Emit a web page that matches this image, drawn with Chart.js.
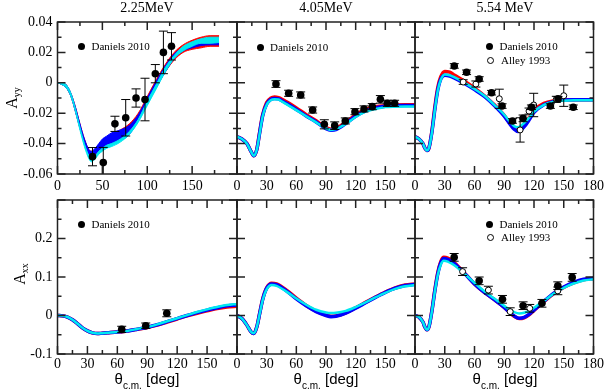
<!DOCTYPE html>
<html>
<head>
<meta charset="utf-8">
<script src="https://cdn.jsdelivr.net/npm/chart.js@4.4.0/dist/chart.umd.min.js"></script>
<style>
  html, body { margin: 0; padding: 0; background: #fff; }
  #wrap { position: relative; width: 605px; height: 391px; overflow: hidden; }
  #wrap canvas { position: absolute; left: 0; top: 0; }
  .t { position: absolute; white-space: nowrap; color: #000; line-height: 1; }
  .ttl { font: 14px "Liberation Serif", "Times New Roman", serif; transform: translate(-50%, -50%); }
  .ylab { font: 16px "Liberation Serif", "Times New Roman", serif; transform: translate(-50%, -50%) rotate(-90deg); }
  .ylab sub { font-size: 10px; vertical-align: -3px; }
  .xlab { font: 15px "Liberation Sans", Arial, sans-serif; transform: translate(-50%, -50%); }
  .xlab sub { font-size: 10px; vertical-align: -5px; }
  .leg { font: 11px "Liberation Serif", "Times New Roman", serif; display: flex; align-items: center; height: 14px; }
  .dot { width: 7px; height: 7px; border-radius: 50%; background: #000; margin-right: 6.5px; }
  .odot { width: 5px; height: 5px; border-radius: 50%; border: 1px solid #000; background: #fff; margin: 0 7.5px 0 0.5px; }
</style>
</head>
<body>
<div id="wrap">
  <canvas id="cTL" width="605" height="391"></canvas>
  <canvas id="cTM" width="605" height="391"></canvas>
  <canvas id="cTR" width="605" height="391"></canvas>
  <canvas id="cBL" width="605" height="391"></canvas>
  <canvas id="cBM" width="605" height="391"></canvas>
  <canvas id="cBR" width="605" height="391"></canvas>

  <div class="t ttl" style="left:147px;top:8px">2.25MeV</div>
  <div class="t ttl" style="left:326px;top:8px">4.05MeV</div>
  <div class="t ttl" style="left:505px;top:8px">5.54 MeV</div>

  <div class="t ylab" style="left:12px;top:98px">A<sub>yy</sub></div>
  <div class="t ylab" style="left:20px;top:274px">A<sub>xx</sub></div>

  <div class="t xlab" style="left:147px;top:380px">θ<sub>c.m.</sub> [deg]</div>
  <div class="t xlab" style="left:326px;top:380px">θ<sub>c.m.</sub> [deg]</div>
  <div class="t xlab" style="left:505px;top:380px">θ<sub>c.m.</sub> [deg]</div>

  <div class="t leg" style="left:78px;top:39px"><span class="dot"></span>Daniels 2010</div>
  <div class="t leg" style="left:256.5px;top:40px"><span class="dot"></span>Daniels 2010</div>
  <div class="t leg" style="left:486px;top:39px"><span class="dot"></span>Daniels 2010</div>
  <div class="t leg" style="left:486px;top:53px"><span class="odot"></span>Alley 1993</div>
  <div class="t leg" style="left:78px;top:217px"><span class="dot"></span>Daniels 2010</div>
  <div class="t leg" style="left:486px;top:217px"><span class="dot"></span>Daniels 2010</div>
  <div class="t leg" style="left:486px;top:230px"><span class="odot"></span>Alley 1993</div>
</div>

<script>
// ---------- theory bands, Ayy at 2.25 MeV (lower / upper edges) ----------
const angAyy225  = [0, 5, 10, 15, 20, 25, 30, 35, 38, 42, 46, 50, 55, 60, 70, 80, 90, 100, 110, 120, 130, 140, 150, 160, 170, 180];
const redLo225   = [0, -0.0012, -0.0035, -0.009, -0.019, -0.030, -0.040, -0.047, -0.049, -0.048, -0.045, -0.043, -0.041, -0.040, -0.037, -0.033, -0.025, -0.014, -0.003, 0.007, 0.015, 0.020, 0.022, 0.023, 0.024, 0.024];
const redHi225   = [0, 0.0002, -0.0015, -0.007, -0.016, -0.027, -0.037, -0.044, -0.045, -0.044, -0.041, -0.038, -0.036, -0.034, -0.031, -0.027, -0.020, -0.009, 0.002, 0.012, 0.020, 0.025, 0.028, 0.030, 0.031, 0.031];
const blueLo225  = [0, -0.0012, -0.0035, -0.009, -0.019, -0.030, -0.040, -0.047, -0.048, -0.047, -0.045, -0.043, -0.041, -0.040, -0.038, -0.034, -0.025, -0.014, -0.003, 0.007, 0.016, 0.021, 0.023, 0.0245, 0.025, 0.025];
const blueHi225  = [0, 0.0002, -0.0015, -0.007, -0.016, -0.027, -0.037, -0.044, -0.045, -0.043, -0.040, -0.037, -0.035, -0.033, -0.031, -0.028, -0.021, -0.010, 0.001, 0.011, 0.019, 0.023, 0.025, 0.026, 0.027, 0.027];
const cyanLo225  = [0, -0.0012, -0.0035, -0.009, -0.019, -0.031, -0.042, -0.050, -0.052, -0.050, -0.047, -0.045, -0.043, -0.042, -0.039, -0.034, -0.026, -0.015, -0.004, 0.007, 0.016, 0.021, 0.024, 0.026, 0.026, 0.0265];
const cyanHi225  = [0, 0.0002, -0.0015, -0.007, -0.017, -0.029, -0.040, -0.048, -0.050, -0.048, -0.045, -0.043, -0.041, -0.040, -0.037, -0.032, -0.024, -0.012, -0.001, 0.010, 0.018, 0.024, 0.027, 0.029, 0.030, 0.030];

// ---------- theory curves, Ayy at 4.05 and 5.54 MeV ----------
const angAyy405  = [0, 5, 10, 14, 17, 20, 23, 26, 30, 34, 38, 42, 46, 50, 60, 70, 80, 90, 95, 100, 110, 120, 130, 140, 150, 160, 170, 180];
const redAyy405  = [-0.0355, -0.037, -0.040, -0.045, -0.048, -0.044, -0.032, -0.021, -0.013, -0.0102, -0.0094, -0.0098, -0.011, -0.0125, -0.0165, -0.021, -0.025, -0.0295, -0.0305, -0.030, -0.026, -0.021, -0.0175, -0.0158, -0.015, -0.0146, -0.0145, -0.0145];
const blueAyy405 = [-0.0355, -0.037, -0.040, -0.045, -0.048, -0.044, -0.0325, -0.0215, -0.014, -0.011, -0.0103, -0.0106, -0.012, -0.0135, -0.0175, -0.0218, -0.0258, -0.0302, -0.0312, -0.0308, -0.0268, -0.022, -0.0185, -0.0165, -0.0155, -0.015, -0.0149, -0.0149];
const cyanAyy405 = [-0.0355, -0.037, -0.040, -0.045, -0.048, -0.044, -0.033, -0.022, -0.0145, -0.0115, -0.0108, -0.011, -0.0125, -0.014, -0.018, -0.022, -0.026, -0.030, -0.031, -0.0305, -0.027, -0.0225, -0.019, -0.0172, -0.016, -0.0157, -0.0156, -0.0156];

const angAyy554  = [0, 4, 8, 10, 12, 14, 17, 20, 23, 26, 30, 35, 40, 50, 60, 70, 80, 90, 95, 100, 104, 110, 115, 120, 130, 140, 150, 160, 170, 180];
const redAyy554  = [-0.0355, -0.037, -0.040, -0.043, -0.0445, -0.043, -0.032, -0.016, -0.003, 0.004, 0.0075, 0.007, 0.005, 0.001, -0.0035, -0.0085, -0.0145, -0.0215, -0.026, -0.0295, -0.031, -0.028, -0.023, -0.018, -0.0135, -0.0118, -0.0113, -0.0112, -0.0112, -0.0112];
const blueAyy554 = [-0.0355, -0.037, -0.040, -0.043, -0.0445, -0.043, -0.0325, -0.0175, -0.0045, 0.0025, 0.005, 0.0045, 0.003, -0.0005, -0.0045, -0.009, -0.015, -0.022, -0.0265, -0.0305, -0.032, -0.029, -0.0245, -0.0195, -0.0145, -0.0122, -0.0113, -0.0111, -0.0111, -0.0111];
const cyanAyy554 = [-0.0355, -0.037, -0.040, -0.043, -0.0445, -0.043, -0.033, -0.018, -0.005, 0.002, 0.0055, 0.005, 0.0035, 0.000, -0.004, -0.0085, -0.0145, -0.021, -0.025, -0.0285, -0.0292, -0.0265, -0.023, -0.019, -0.0145, -0.0125, -0.0118, -0.0115, -0.0115, -0.0115];

// ---------- theory curves, Axx ----------
const angAxx225  = [0, 5, 10, 15, 20, 25, 30, 35, 40, 45, 50, 60, 70, 80, 90, 100, 110, 120, 130, 140, 150, 160, 170, 180];
const redAxx225  = [0, -0.001, -0.004, -0.011, -0.021, -0.032, -0.040, -0.045, -0.047, -0.046, -0.045, -0.043, -0.040, -0.036, -0.031, -0.025, -0.017, -0.009, -0.001, 0.006, 0.012, 0.018, 0.022, 0.024];
const blueAxx225 = [0, -0.001, -0.004, -0.011, -0.021, -0.032, -0.040, -0.045, -0.047, -0.046, -0.045, -0.043, -0.040, -0.0355, -0.0305, -0.024, -0.016, -0.008, 0.000, 0.0075, 0.014, 0.020, 0.025, 0.027];
const cyanAxx225 = [0, -0.001, -0.004, -0.011, -0.021, -0.032, -0.040, -0.045, -0.047, -0.046, -0.045, -0.043, -0.040, -0.035, -0.030, -0.023, -0.015, -0.007, 0.001, 0.009, 0.016, 0.022, 0.027, 0.030];

const angAxx405  = [0, 5, 10, 14, 17, 20, 23, 26, 30, 35, 40, 50, 60, 70, 80, 90, 95, 100, 110, 120, 130, 140, 150, 160, 170, 180];
const redAxx405  = [0, -0.008, -0.025, -0.042, -0.047, -0.030, 0.007, 0.043, 0.072, 0.084, 0.082, 0.066, 0.045, 0.026, 0.011, 0.001, -0.002, -0.001, 0.007, 0.020, 0.034, 0.048, 0.061, 0.072, 0.079, 0.082];
const blueAxx405 = [0, -0.008, -0.025, -0.042, -0.047, -0.030, 0.006, 0.042, 0.071, 0.082, 0.080, 0.064, 0.043, 0.025, 0.010, 0.000, -0.003, -0.002, 0.006, 0.019, 0.033, 0.047, 0.060, 0.071, 0.078, 0.081];
const cyanAxx405 = [0, -0.008, -0.025, -0.042, -0.046, -0.030, 0.005, 0.040, 0.068, 0.079, 0.077, 0.062, 0.044, 0.028, 0.015, 0.008, 0.0065, 0.007, 0.012, 0.022, 0.034, 0.047, 0.059, 0.069, 0.076, 0.079];

const angAxx554  = [0, 4, 8, 10, 12, 14, 17, 20, 23, 26, 29, 33, 40, 50, 60, 70, 80, 90, 95, 100, 105, 110, 115, 120, 130, 140, 150, 160, 170, 180];
const redAxx554  = [0, -0.004, -0.017, -0.030, -0.037, -0.030, 0.012, 0.066, 0.112, 0.140, 0.151, 0.149, 0.136, 0.110, 0.082, 0.060, 0.041, 0.021, 0.009, -0.002, -0.008, -0.006, 0.002, 0.013, 0.036, 0.057, 0.073, 0.085, 0.093, 0.096];
const blueAxx554 = [0, -0.004, -0.017, -0.030, -0.037, -0.030, 0.011, 0.064, 0.109, 0.137, 0.148, 0.146, 0.134, 0.109, 0.082, 0.060, 0.041, 0.021, 0.009, -0.001, -0.007, -0.005, 0.003, 0.014, 0.037, 0.058, 0.074, 0.086, 0.094, 0.097];
const cyanAxx554 = [0, -0.004, -0.017, -0.030, -0.037, -0.030, 0.010, 0.062, 0.106, 0.132, 0.142, 0.140, 0.130, 0.108, 0.085, 0.063, 0.044, 0.025, 0.016, 0.009, 0.0055, 0.007, 0.012, 0.020, 0.038, 0.057, 0.072, 0.083, 0.091, 0.094];

// ---------- measurements ----------
const danAngAyy225 = [39, 51, 64, 76, 87.5, 97.5, 109, 118, 127];
const danAyy225    = [-0.0486, -0.0525, -0.027, -0.023, -0.010, -0.011, 0.006, 0.020, 0.024];
const danErrAyy225 = [0.006, 0.010, 0.005, 0.012, 0.006, 0.014, 0.006, 0.014, 0.009];

const danAngAyy405 = [39.4, 52.2, 64.4, 76.5, 88.3, 98.8, 109.5, 119.3, 128.4, 136.8, 145, 152, 159.4];
const danAyy405    = [-0.0008, -0.0069, -0.008, -0.0179, -0.0273, -0.0282, -0.0251, -0.019, -0.0172, -0.0157, -0.0109, -0.0135, -0.0135];
const danErrAyy405 = [0.0022, 0.002, 0.002, 0.002, 0.003, 0.0025, 0.002, 0.002, 0.002, 0.002, 0.0025, 0.002, 0.002];

const danAngAyy554 = [39.6, 52, 64.7, 77.2, 87.8, 98.3, 109, 117.4, 136.5, 144.2, 159.6];
const danAyy554    = [0.0111, 0.0069, 0.0025, -0.0065, -0.0153, -0.0251, -0.0234, -0.0161, -0.0153, -0.0105, -0.0161];
const danErrAyy554 = [0.0015, 0.0015, 0.0015, 0.0015, 0.0015, 0.0015, 0.0022, 0.0015, 0.0015, 0.0015, 0.0015];
const allAngAyy554 = [48.6, 61.4, 85, 106, 115, 119.7, 142.5, 150];
const allAyy554    = [0.0005, -0.0008, -0.0105, -0.031, -0.0186, -0.0146, -0.0109, -0.0085];
const allErrAyy554 = [0.0015, 0.002, 0.0063, 0.008, 0.002, 0.0077, 0.002, 0.007];

const danAngAxx225 = [64.4, 88.5, 109.6];
const danAxx225    = [-0.036, -0.0265, 0.0057];
const danErrAxx225 = [0.008, 0.007, 0.009];

const danAngAxx554 = [39.5, 64.7, 88.2, 109, 128, 144, 158.5];
const danAxx554    = [0.151, 0.090, 0.042, 0.0255, 0.0317, 0.0774, 0.099];
const danErrAxx554 = [0.01, 0.01, 0.01, 0.01, 0.01, 0.01, 0.01];
const allAngAxx554 = [48, 74, 96, 115.7, 144];
const allAxx554    = [0.114, 0.066, 0.01, 0.0187, 0.064];
const allErrAxx554 = [0.01, 0.01, 0.01, 0.01, 0.01];

// ---------- helpers ----------
const W = 605, H = 391, Y_W = 50, X_H = 20;
const RED = '#ff0000', BLUE = '#0000ff', CYAN = '#00e8f0';
const TICK_FONT = { family: "'Liberation Serif', 'Times New Roman', serif", size: 14 };

function pts(xs, ys) { return xs.map((x, i) => ({ x: x, y: ys[i] })); }

function fmt(v) {
  const r = Math.round(v * 1000) / 1000;
  return r === 0 ? '0' : String(r);
}

function curve(xs, ys, color, width, order, fill) {
  return {
    data: pts(xs, ys), borderColor: color, backgroundColor: color, borderWidth: width,
    pointRadius: 0, fill: fill || false, cubicInterpolationMode: 'monotone', order: order
  };
}

function markers(xs, ys, errs, open) {
  return {
    data: pts(xs, ys), errors: errs, showLine: false, order: 0,
    pointRadius: open ? 3 : 3.8, pointBorderWidth: open ? 1 : 0,
    pointBackgroundColor: open ? '#fff' : '#000', pointBorderColor: '#000'
  };
}

// error bars, drawn just under their own markers
const errorBars = {
  id: 'errorBars',
  beforeDatasetDraw(chart, args) {
    const ds = chart.data.datasets[args.index];
    if (!ds.errors) return;
    const ctx = chart.ctx, a = chart.chartArea;
    const xs = chart.scales.x, ys = chart.scales.y;
    ctx.save();
    ctx.beginPath();
    ctx.rect(a.left, a.top, a.width, a.height);
    ctx.clip();
    ctx.strokeStyle = '#000';
    ctx.lineWidth = 1;
    ds.data.forEach((p, i) => {
      const px = xs.getPixelForValue(p.x);
      const lo = ys.getPixelForValue(p.y - ds.errors[i]);
      const hi = ys.getPixelForValue(p.y + ds.errors[i]);
      ctx.beginPath();
      ctx.moveTo(px, lo); ctx.lineTo(px, hi);
      ctx.moveTo(px - 4.5, lo); ctx.lineTo(px + 4.5, lo);
      ctx.moveTo(px - 4.5, hi); ctx.lineTo(px + 4.5, hi);
      ctx.stroke();
    });
    ctx.restore();
  }
};

// box round the plot with inward ticks on all four sides
const frame = {
  id: 'frame',
  afterDraw(chart) {
    const ctx = chart.ctx, a = chart.chartArea;
    const o = chart.options.plugins.frame;
    const xs = chart.scales.x, ys = chart.scales.y;
    ctx.save();
    ctx.strokeStyle = '#222';
    ctx.lineWidth = 1.5;
    ctx.beginPath();
    const isMajor = (v, m) => Math.abs(v / m - Math.round(v / m)) < 1e-6;
    for (let v = o.x.min; v <= o.x.max + 1e-9; v += o.x.minor) {
      const px = xs.getPixelForValue(v), len = isMajor(v, o.x.major) ? 8 : 4;
      ctx.moveTo(px, a.bottom); ctx.lineTo(px, a.bottom - len);
      ctx.moveTo(px, a.top); ctx.lineTo(px, a.top + len);
    }
    const n = Math.round((o.y.max - o.y.min) / o.y.minor);
    for (let k = 0; k <= n; k++) {
      const v = o.y.min + k * o.y.minor;
      const py = ys.getPixelForValue(v), len = isMajor(v, o.y.major) ? 8 : 4;
      ctx.moveTo(a.left, py); ctx.lineTo(a.left + len, py);
      ctx.moveTo(a.right, py); ctx.lineTo(a.right - len, py);
    }
    ctx.stroke();
    ctx.strokeRect(a.left, a.top, a.width, a.height);
    ctx.restore();
  }
};

function axis(s, dir) {
  return {
    type: 'linear', min: s.min, max: s.max,
    grid: { display: false, drawTicks: false },
    border: { display: false },
    ticks: {
      stepSize: s.major, autoSkip: false, maxRotation: 0, color: '#000', font: TICK_FONT,
      padding: s.pad,
      callback: v => (!s.labels || (s.hideMax && Math.abs(v - s.max) < 1e-9)) ? '' : fmt(v)
    },
    afterFit: sc => {
      if (dir === 'x') sc.height = X_H; else sc.width = Y_W;
      sc.paddingLeft = 0; sc.paddingRight = 0; sc.paddingTop = 0; sc.paddingBottom = 0;
    }
  };
}

function makePanel(id, box, xs, ys, datasets) {
  return new Chart(document.getElementById(id), {
    type: 'line',
    data: { datasets: datasets },
    options: {
      responsive: false,
      animation: false,
      events: [],
      layout: { padding: { left: box[0] - Y_W, top: box[1], right: W - box[2], bottom: H - box[3] - X_H } },
      plugins: {
        legend: { display: false },
        tooltip: { enabled: false },
        frame: { x: xs, y: ys }
      },
      scales: { x: axis(xs, 'x'), y: axis(ys, 'y') }
    },
    plugins: [errorBars, frame]
  });
}

function theory(ang, red, blue, cyan) {
  return [
    curve(ang, cyan, CYAN, 2.5, 1),
    curve(ang, blue, BLUE, 3.5, 2),
    curve(ang, red, RED, 3.5, 3)
  ];
}

// ---------- panels ----------
const colL = 57.5, colM = 237, colR = 415, colE = 593.5;
const topT = 22, topB = 174, botT = 200, botB = 354;

const x200 = { min: 0, max: 200, major: 50, minor: 25, labels: true, hideMax: true, pad: 4 };
const x180 = { min: 0, max: 180, major: 30, minor: 15, labels: true, hideMax: true, pad: 4 };
const x180end = { min: 0, max: 180, major: 30, minor: 15, labels: true, hideMax: false, pad: 4 };
const x180b = { min: 0, max: 180, major: 30, minor: 15, labels: true, hideMax: true, pad: 2 };
const x180bend = { min: 0, max: 180, major: 30, minor: 15, labels: true, hideMax: false, pad: 2 };
const yAyy = { min: -0.06, max: 0.04, major: 0.02, minor: 0.01, labels: true, hideMax: false, pad: 5 };
const yAyyOff = Object.assign({}, yAyy, { labels: false });
const yAxx = { min: -0.1, max: 0.3, major: 0.1, minor: 0.05, labels: true, hideMax: true, pad: 5 };
const yAxxOff = Object.assign({}, yAxx, { labels: false });

makePanel('cTL', [colL, topT, colM, topB], x200, yAyy, [
  markers(danAngAyy225, danAyy225, danErrAyy225, false),
  curve(angAyy225, cyanLo225, CYAN, 1, 1),
  curve(angAyy225, cyanHi225, CYAN, 1, 1, '-1'),
  curve(angAyy225, blueLo225, BLUE, 1, 2),
  curve(angAyy225, blueHi225, BLUE, 1, 2, '-1'),
  curve(angAyy225, redLo225, RED, 1, 3),
  curve(angAyy225, redHi225, RED, 1, 3, '-1')
]);

makePanel('cTM', [colM, topT, colR, topB], x180, yAyyOff, [
  markers(danAngAyy405, danAyy405, danErrAyy405, false)
].concat(theory(angAyy405, redAyy405, blueAyy405, cyanAyy405)));

makePanel('cTR', [colR, topT, colE, topB], x180end, yAyyOff, [
  markers(danAngAyy554, danAyy554, danErrAyy554, false),
  markers(allAngAyy554, allAyy554, allErrAyy554, true)
].concat(theory(angAyy554, redAyy554, blueAyy554, cyanAyy554)));

makePanel('cBL', [colL, botT, colM, botB], x180b, yAxx, [
  markers(danAngAxx225, danAxx225, danErrAxx225, false)
].concat(theory(angAxx225, redAxx225, blueAxx225, cyanAxx225)));

makePanel('cBM', [colM, botT, colR, botB], x180b, yAxxOff,
  theory(angAxx405, redAxx405, blueAxx405, cyanAxx405));

makePanel('cBR', [colR, botT, colE, botB], x180bend, yAxxOff, [
  markers(danAngAxx554, danAxx554, danErrAxx554, false),
  markers(allAngAxx554, allAxx554, allErrAxx554, true)
].concat(theory(angAxx554, redAxx554, blueAxx554, cyanAxx554)));
</script>
</body>
</html>
